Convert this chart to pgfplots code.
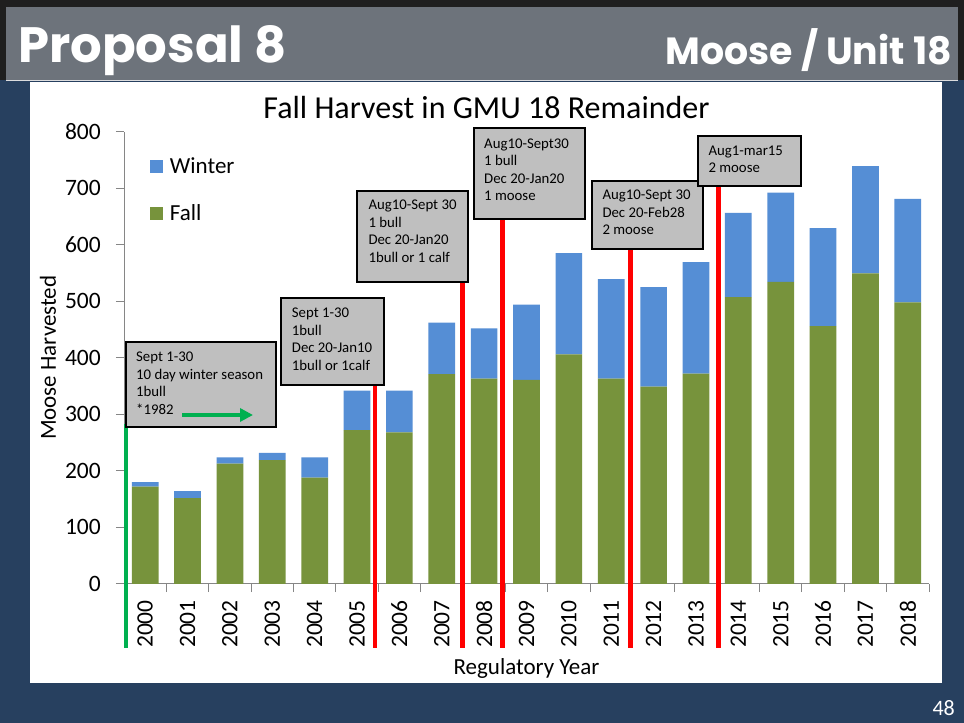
\documentclass[border=0pt]{standalone}
\usepackage{pgfplots}
\pgfplotsset{compat=1.18}
\usepackage{pgfplotstable}
\usepackage{fontspec}
\setmainfont{Carlito}
\newfontfamily\headfont{Poppins}
\usetikzlibrary{arrows.meta}
\definecolor{navy}{HTML}{27405F}
\definecolor{headgrey}{HTML}{6D737B}
\definecolor{boxgrey}{HTML}{BFBFBF}
\definecolor{axisgrey}{HTML}{868686}
\definecolor{fallgreen}{HTML}{77933C}
\definecolor{winterblue}{HTML}{558ED5}
\definecolor{linegreen}{HTML}{00B050}

\pgfplotstableread{
x fall winter
0 172 8
1 152 12
2 213 11
3 219 13
4 188 36
5 272 70
6 268 74
7 371 91
8 363 89
9 361 133
10 406 179
11 363 176
12 349 176
13 372 197
14 507 149
15 534 158
16 456 173
17 549 190
18 498 183
}\harvest

\tikzset{
  annbox/.style={fill=boxgrey, draw=black, line width=2.5pt},
  anntext/.style={anchor=base west, inner sep=0pt, font=\fontsize{14.8}{17.5}\selectfont}
}

\begin{document}
\begin{tikzpicture}[x=1pt,y=1pt]
\useasboundingbox (0,0) rectangle (964,723);
\fill[navy] (0,0) rectangle (964,723);
\fill[black!88] (0,643) rectangle (964,723);
\fill[headgrey] (6,643) rectangle (958,716);
\fill[white!75!headgrey] (6,641.5) rectangle (958,643);
\fill[white] (30,40) rectangle (942,641);
\node[anchor=base west, inner sep=0pt, text=white] at (18,660) {\resizebox{268pt}{!}{\headfont\bfseries Proposal 8}};
\node[anchor=base east, inner sep=0pt, text=white] at (952,658) {\resizebox{286pt}{!}{\headfont\bfseries Moose / Unit 18}};
\node[anchor=base, inner sep=0pt] at (486.5,604.5) {\fontsize{32}{38}\selectfont Fall Harvest in GMU 18 Remainder};
\node[anchor=base east, text=white, inner sep=0pt] at (955,7) {\fontsize{22}{26}\selectfont 48};

\begin{axis}[
  at={(124pt,139pt)}, anchor=south west, scale only axis,
  width=805pt, height=452.5pt,
  xmin=-0.5, xmax=18.5, ymin=0, ymax=800,
  clip=false,
  ybar stacked, bar width=26.7pt,
  axis lines*=left,
  axis line style={draw=axisgrey, line width=1pt},
  tick align=outside,
  major tick length=8pt,
  tick style={draw=axisgrey, line width=1pt},
  ytick={0,100,...,800},
  xtick={-0.5,0.5,...,18.5},
  xticklabels={},
  extra x ticks={0,1,...,18},
  extra x tick labels={2000,2001,2002,2003,2004,2005,2006,2007,2008,2009,2010,2011,2012,2013,2014,2015,2016,2017,2018},
  extra x tick style={major tick length=0pt, tick style={draw=none},
    xticklabel style={rotate=90, anchor=east, inner sep=0pt, inner xsep=16pt}},
  /pgf/number format/assume math mode=true,
  tick label style={font=\fontsize{23.5}{26}\selectfont},
  yticklabel style={anchor=east, inner sep=0pt, inner xsep=15pt},
  ylabel={Moose Harvested},
  xlabel={Regulatory Year},
  every axis y label/.style={at={(axis description cs:-0.0944,0.5)}, rotate=90, anchor=center, font=\fontsize{23}{26}\selectfont},
  every axis x label/.style={at={(axis description cs:0.5,-0.1989)}, anchor=base, font=\fontsize{23}{26}\selectfont},
  legend style={at={(0.032,0.943)}, anchor=north west, draw=none, fill=none,
    font=\fontsize{23}{26}\selectfont, inner sep=0pt,
    nodes={inner sep=0pt, text height=16pt, text depth=5pt, anchor=west},
    row sep=26pt, /tikz/column sep=7pt},
  legend cell align=left,
  reverse legend,
  legend image code/.code={\fill[#1] (0pt,-5pt) rectangle (13pt,8pt);},
]
\addplot[fill=fallgreen, draw=none] table[x=x, y=fall] {\harvest};
\addplot[fill=winterblue, draw=none] table[x=x, y=winter] {\harvest};
\legend{Fall, Winter}
\draw[linegreen, line width=4.5pt] (axis cs:-0.45,-113) -- (axis cs:-0.45,283);
\draw[red, line width=4.5pt] (axis cs:5.42,-113) -- (axis cs:5.42,355);
\draw[red, line width=4.5pt] (axis cs:7.49,-113) -- (axis cs:7.49,536);
\draw[red, line width=4.5pt] (axis cs:8.43,-113) -- (axis cs:8.43,645);
\draw[red, line width=4.5pt] (axis cs:11.46,-113) -- (axis cs:11.46,592);
\draw[red, line width=4.5pt] (axis cs:13.53,-113) -- (axis cs:13.53,705);
\end{axis}

% annotation boxes
\draw[annbox] (126,381) rectangle (276,296);
\node[anntext] at (136,361) {Sept 1-30};
\node[anntext] at (136,343.5) {10 day winter season};
\node[anntext] at (136,326) {1bull};
\node[anntext] at (136,308.5) {*1982};
\draw[linegreen, line width=4pt, -{Triangle[length=13pt,width=13pt]}] (182,308) -- (253,308);

\draw[annbox] (281,425) rectangle (384,338);
\node[anntext] at (291.7,405.5) {Sept 1-30};
\node[anntext] at (291.7,387.5) {1bull};
\node[anntext] at (291.7,370) {Dec 20-Jan10};
\node[anntext] at (291.7,352.5) {1bull or 1calf};

\draw[annbox] (357,532) rectangle (468,441);
\node[anntext] at (368.3,513) {Aug10-Sept 30};
\node[anntext] at (368.3,495.5) {1 bull};
\node[anntext] at (368.3,478) {Dec 20-Jan20};
\node[anntext] at (368.3,460.5) {1bull or 1 calf};

\draw[annbox] (474,595) rectangle (585,504);
\node[anntext] at (484,574.5) {Aug10-Sept30};
\node[anntext] at (484,557) {1 bull};
\node[anntext] at (484,539.5) {Dec 20-Jan20};
\node[anntext] at (484,522) {1 moose};

\draw[annbox] (592,542) rectangle (703,474);
\node[anntext] at (602.3,523) {Aug10-Sept 30};
\node[anntext] at (602.3,505.5) {Dec 20-Feb28};
\node[anntext] at (602.3,488) {2 moose};

\draw[annbox] (698,587) rectangle (801,537);
\node[anntext] at (708.3,567.5) {Aug1-mar15};
\node[anntext] at (708.3,550) {2 moose};
\end{tikzpicture}
\end{document}
